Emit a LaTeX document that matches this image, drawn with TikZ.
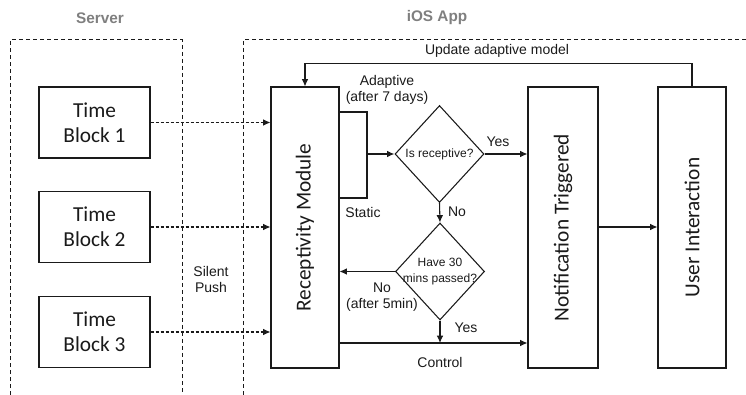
\documentclass[tikz,border=0pt]{standalone}
\usepackage{fontspec}
\setmainfont{Liberation Sans}
\newfontfamily\calfont{Carlito}
\usetikzlibrary{arrows.meta,shapes.geometric}
\definecolor{hdrgray}{HTML}{7F7F7F}
\definecolor{ln}{HTML}{1A1A1A}
\begin{document}
\begin{tikzpicture}[x=0.75pt,y=-0.75pt,
  box/.style={draw=ln, line width=0.8pt, inner sep=0pt},
  boxtxt/.style={font=\calfont\fontsize{16}{19}\selectfont, align=center, text=ln},
  vtxt/.style={font=\calfont\fontsize{16}{19}\selectfont, rotate=90, text=ln},
  lbl/.style={font=\fontsize{10.5}{12}\selectfont, align=center, text=ln},
  small/.style={font=\fontsize{9}{12}\selectfont, align=center, text=ln},
  hdr/.style={font=\bfseries\fontsize{11.5}{13}\selectfont, text=hdrgray},
  dia/.style={draw=ln, line width=0.8pt, diamond, inner sep=0pt, minimum width=66.75pt, minimum height=72.75pt},
  arr/.style={draw=ln, line width=0.8pt, -{Latex[length=5.5pt,width=5pt]}},
  thickarr/.style={draw=ln, line width=2.2pt, -{Latex[length=5.5pt,width=5pt]}},
  darr/.style={arr, dash pattern=on 2.25pt off 1.5pt},
  region/.style={draw=ln, line width=0.75pt, dash pattern=on 3pt off 2.25pt},
  tb/.style={box, minimum width=83.25pt, minimum height=53.25pt},
  tall/.style={box, minimum height=210.75pt}
]
\useasboundingbox (0,0) rectangle (746,395);
% regions
\draw[region] (10,395) -- (10,40) -- (182,40) -- (182,395);
\draw[region] (746,40) -- (243,40) -- (243,395);
\node[hdr] (hs) at (100,18) {Server};
\node[hdr] (hi) at (437,18) {iOS App};
% time blocks
\node[tb, boxtxt] (tb1) at (94.5,122.5) {Time\\Block 1};
\node[tb, boxtxt] (tb2) at (94.5,227) {Time\\Block 2};
\node[tb, boxtxt] (tb3) at (94.5,332) {Time\\Block 3};
% tall boxes
\node[tall, minimum width=51pt] (rm) at (305,227.5) {};
\node[vtxt] (rmt) at (rm) {Receptivity Module};
\node[tall, minimum width=52.5pt] (nt) at (563,227.5) {};
\node[vtxt] (ntt) at (nt) {Notification Triggered};
\node[tall, minimum width=51pt] (ui) at (692,227.5) {};
\node[vtxt] (uit) at (ui) {User Interaction};
% switch box
\node[box, minimum width=21pt, minimum height=64.5pt] (sw) at (353,155) {};
% diamonds
\node[dia] (d1) at (439.5,154) {};
\node[small] (d1t) at (d1) {Is receptive?};
\node[dia] (d2) at (440,271.5) {};
\node[small] (d2t) at (d2) {Have 30\\mins passed?};
\coordinate (ctl) at (440,343);
% connectors
\draw[darr] (tb1.east) -- (rm.west |- tb1.east);
\draw[darr] (tb2.east) -- (rm.west |- tb2.east);
\draw[darr] (tb3.east) -- (rm.west |- tb3.east);
\draw[thickarr] (sw.east |- d1.west) -- (d1.west);
\draw[arr] (d1.east) -- (nt.west |- d1.east);
\draw[arr] (d1.south) -- (d2.north);
\draw[arr] (d2.west) -- (rm.east |- d2.west);
\draw[arr] (d2.south) -- (ctl);
\draw[arr] (rm.east |- ctl) -- (nt.west |- ctl);
\draw[arr] (nt.east |- tb2.east) -- (ui.west |- tb2.east);
\draw[arr] (ui.north) -- ++(0,-23) -| (rm.north);
% labels
\node[lbl] (lupd) at (497,51) {Update adaptive model};
\node[lbl] (lad) at (387,90) {Adaptive\\(after 7 days)};
\node[lbl] (lst) at (363,212) {Static};
\node[lbl] (ly1) at (498,142) {Yes};
\node[lbl] (ln1) at (457,212) {No};
\node[lbl] (ln2) at (382,297) {No\\(after 5min)};
\node[lbl] (ly2) at (466,328) {Yes};
\node[lbl] (lctl) at (440,362) {Control};
\node[lbl] (lsp) at (211,279) {Silent\\Push};
\end{tikzpicture}
\end{document}
